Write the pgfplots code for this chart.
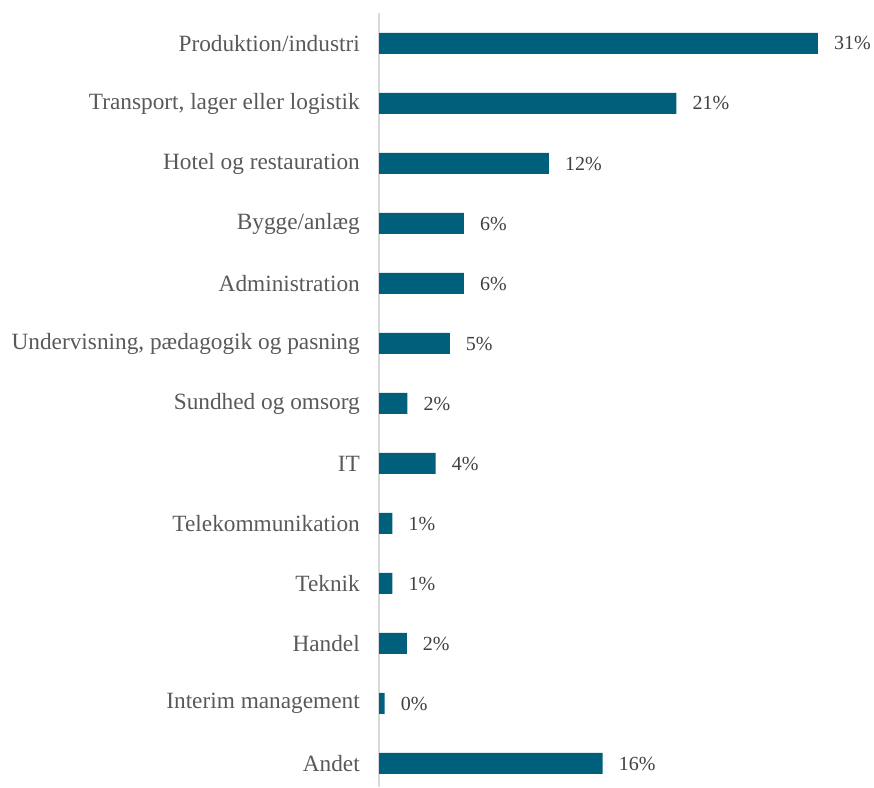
\documentclass[border=0pt]{standalone}
\usepackage{fontspec}
\setmainfont{Liberation Serif}
\usepackage{pgfplots}
\pgfplotsset{compat=1.18}
\definecolor{barblue}{RGB}{0,95,122}
\definecolor{labelgray}{RGB}{89,89,89}
\definecolor{valgray}{RGB}{64,64,64}
\definecolor{axisgray}{RGB}{217,217,217}

\begin{document}
\begin{tikzpicture}
\useasboundingbox (0,0) rectangle (874pt,787pt);
\begin{axis}[
  at={(379pt,0pt)}, anchor=south west,
  scale only axis, width=495pt, height=774pt,
  xbar, bar width=21pt,
  xmin=0, xmax=34.96,
  ymin=-0.508, ymax=12.392, y dir=reverse,
  ytick={0,...,12},
  yticklabels={Produktion/industri, {Transport, lager eller logistik}, Hotel og restauration, Bygge/anlæg, Administration, {Undervisning, pædagogik og pasning}, Sundhed og omsorg, IT, Telekommunikation, Teknik, Handel, Interim management, Andet},
  axis x line=none,
  axis y line=left,
  y axis line style={-, draw=axisgray, line width=1.5pt},
  major tick length=0pt,
  yticklabel style={font=\fontsize{23.3}{25}\selectfont, text=labelgray, inner sep=0pt, xshift=-19pt},
  point meta=x,
  /pgf/number format/assume math mode=true,
  nodes near coords={\pgfmathprintnumber[fixed,precision=0,assume math mode=true]{\pgfplotspointmeta}\%},
  nodes near coords style={anchor=west, inner sep=0pt, xshift=16pt, font=\fontsize{20}{22}\selectfont, text=valgray},
  clip=false,
]
\addplot[fill=barblue, draw=none] coordinates {
  (31,0) (21,1) (12,2) (6,3) (6,4) (5,5) (2,6) (4,7)
  (0.94,8) (0.94,9) (1.96,10) (0.4,11) (15.8,12)
};
\end{axis}
\end{tikzpicture}
\end{document}
